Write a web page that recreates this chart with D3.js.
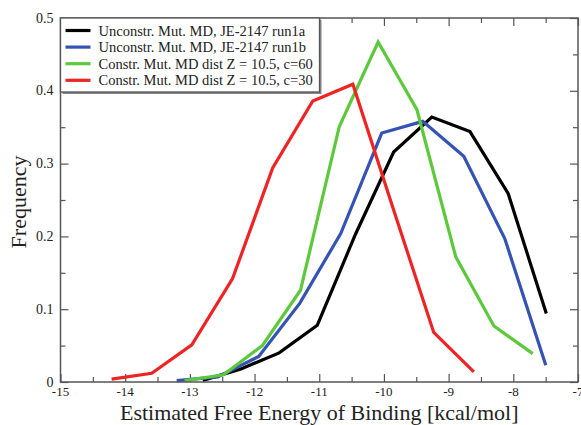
<!DOCTYPE html>
<html>
<head>
<meta charset="utf-8">
<script src="https://cdn.jsdelivr.net/npm/d3@7"></script>
<style>
  html, body { margin: 0; padding: 0; background: #fff; }
  svg { display: block; }
  text { font-family: "Liberation Serif", "Times New Roman", serif; fill: #222; }
</style>
</head>
<body>
<svg id="chart" width="581" height="425"></svg>
<script>
// Histogram bin centres (kcal/mol) and frequencies for each run
const run1aX = [-12.8, -12.21, -11.62, -11.03, -10.44, -9.85, -9.26, -8.67, -8.08, -7.49];
const run1aY = [0.002, 0.018, 0.040, 0.078, 0.203, 0.316, 0.364, 0.344, 0.259, 0.094];

const run1bX = [-13.204, -12.57, -11.936, -11.302, -10.668, -10.034, -9.40, -8.766, -8.132, -7.498];
const run1bY = [0.002, 0.007, 0.035, 0.108, 0.204, 0.342, 0.358, 0.310, 0.197, 0.023];

const c60X = [-13.08, -12.48, -11.88, -11.29, -10.69, -10.09, -9.49, -8.89, -8.30, -7.70];
const c60Y = [0.002, 0.010, 0.050, 0.126, 0.351, 0.467, 0.374, 0.172, 0.077, 0.039];

const c30X = [-14.21, -13.59, -12.97, -12.34, -11.72, -11.10, -10.48, -9.86, -9.23, -8.61];
const c30Y = [0.004, 0.012, 0.051, 0.142, 0.294, 0.386, 0.409, 0.239, 0.068, 0.014];

const seriesNames = [
  "Unconstr. Mut. MD, JE-2147 run1a",
  "Unconstr. Mut. MD, JE-2147 run1b",
  "Constr. Mut. MD dist Z = 10.5, c=60",
  "Constr. Mut. MD dist Z = 10.5, c=30"
];
const seriesColors = ["#000000", "#3553b3", "#5cc83c", "#ee2424"];

const xMajorTicks = [-15, -14, -13, -12, -11, -10, -9, -8, -7];
const xMinorTicks = [-14.5, -13.5, -12.5, -11.5, -10.5, -9.5, -8.5, -7.5];
const yMajorTicks = [0, 0.1, 0.2, 0.3, 0.4, 0.5];
const yMinorTicks = [0.05, 0.15, 0.25, 0.35, 0.45];

const xTitle = "Estimated Free Energy of Binding [kcal/mol]";
const yTitle = "Frequency";

const series = [
  { xs: run1aX, ys: run1aY },
  { xs: run1bX, ys: run1bY },
  { xs: c60X, ys: c60Y },
  { xs: c30X, ys: c30Y }
].map((s, i) => ({
  name: seriesNames[i],
  color: seriesColors[i],
  points: s.xs.map((x, j) => [x, s.ys[j]])
}));

const svg = d3.select("#chart");
const plotLeft = 60.5, plotRight = 578, plotTop = 18, plotBottom = 382;

const x = d3.scaleLinear().domain([-15, -7]).range([plotLeft, plotRight]);
const y = d3.scaleLinear().domain([0, 0.5]).range([plotBottom, plotTop]);

const frameColor = "#555";
const majorLen = 8, minorLen = 5;

// Inward-pointing ticks on all four sides
function ticks(axisGen, vals, len, transform) {
  svg.append("g")
    .attr("transform", transform)
    .call(axisGen.tickValues(vals).tickSize(len).tickFormat(""))
    .call(g => g.select(".domain").remove())
    .call(g => g.selectAll("line").attr("stroke", frameColor).attr("stroke-width", 1.2));
}
ticks(d3.axisTop(x), xMajorTicks, majorLen, `translate(0,${plotBottom})`);
ticks(d3.axisTop(x), xMinorTicks, minorLen, `translate(0,${plotBottom})`);
ticks(d3.axisBottom(x), xMajorTicks, majorLen, `translate(0,${plotTop})`);
ticks(d3.axisBottom(x), xMinorTicks, minorLen, `translate(0,${plotTop})`);
ticks(d3.axisRight(y), yMajorTicks, majorLen, `translate(${plotLeft},0)`);
ticks(d3.axisRight(y), yMinorTicks, minorLen, `translate(${plotLeft},0)`);
ticks(d3.axisLeft(y), yMajorTicks, majorLen, `translate(${plotRight},0)`);
ticks(d3.axisLeft(y), yMinorTicks, minorLen, `translate(${plotRight},0)`);

// Tick labels
svg.append("g").selectAll("text")
  .data(xMajorTicks).join("text")
  .attr("x", d => x(d))
  .attr("y", plotBottom + 14)
  .attr("text-anchor", "middle")
  .attr("font-size", 13)
  .text(d => String(d));

svg.append("g").selectAll("text")
  .data(yMajorTicks).join("text")
  .attr("x", plotLeft - 7)
  .attr("y", d => y(d) + 4.5)
  .attr("text-anchor", "end")
  .attr("font-size", 14)
  .text(d => d === 0 ? "0" : d3.format(".1f")(d));

// Data lines
const line = d3.line().x(d => x(d[0])).y(d => y(d[1]));
svg.append("g").selectAll("path")
  .data(series).join("path")
  .attr("d", d => line(d.points))
  .attr("fill", "none")
  .attr("stroke", d => d.color)
  .attr("stroke-width", 3.2)
  .attr("stroke-linejoin", "miter");

// Plot frame
svg.append("rect")
  .attr("x", plotLeft).attr("y", plotTop)
  .attr("width", plotRight - plotLeft).attr("height", plotBottom - plotTop)
  .attr("fill", "none")
  .attr("stroke", frameColor)
  .attr("stroke-width", 1.5);

// Legend box with drop shadow
const lgX = plotLeft, lgY = plotTop, lgW = 259, lgH = 74;
svg.append("rect")
  .attr("x", lgX + 2).attr("y", lgY + 2)
  .attr("width", lgW).attr("height", lgH)
  .attr("fill", "#888");
svg.append("rect")
  .attr("x", lgX).attr("y", lgY)
  .attr("width", lgW).attr("height", lgH)
  .attr("fill", "#fff")
  .attr("stroke", frameColor)
  .attr("stroke-width", 1.3);

const lg = svg.append("g").selectAll("g")
  .data(series).join("g")
  .attr("transform", (d, i) => `translate(${lgX},${lgY + 12.5 + i * 16.6})`);
lg.append("line")
  .attr("x1", 5).attr("x2", 30)
  .attr("y1", 0).attr("y2", 0)
  .attr("stroke", d => d.color)
  .attr("stroke-width", 3.2);
lg.append("text")
  .attr("x", 38)
  .attr("y", 5)
  .attr("font-size", 14.5)
  .text(d => d.name);

// Axis titles
svg.append("text")
  .attr("x", (plotLeft + plotRight) / 2)
  .attr("y", 420)
  .attr("text-anchor", "middle")
  .attr("font-size", 22)
  .text(xTitle);

svg.append("text")
  .attr("transform", `translate(26,${(plotTop + plotBottom) / 2 + 2}) rotate(-90)`)
  .attr("text-anchor", "middle")
  .attr("font-size", 22)
  .text(yTitle);
</script>
</body>
</html>
